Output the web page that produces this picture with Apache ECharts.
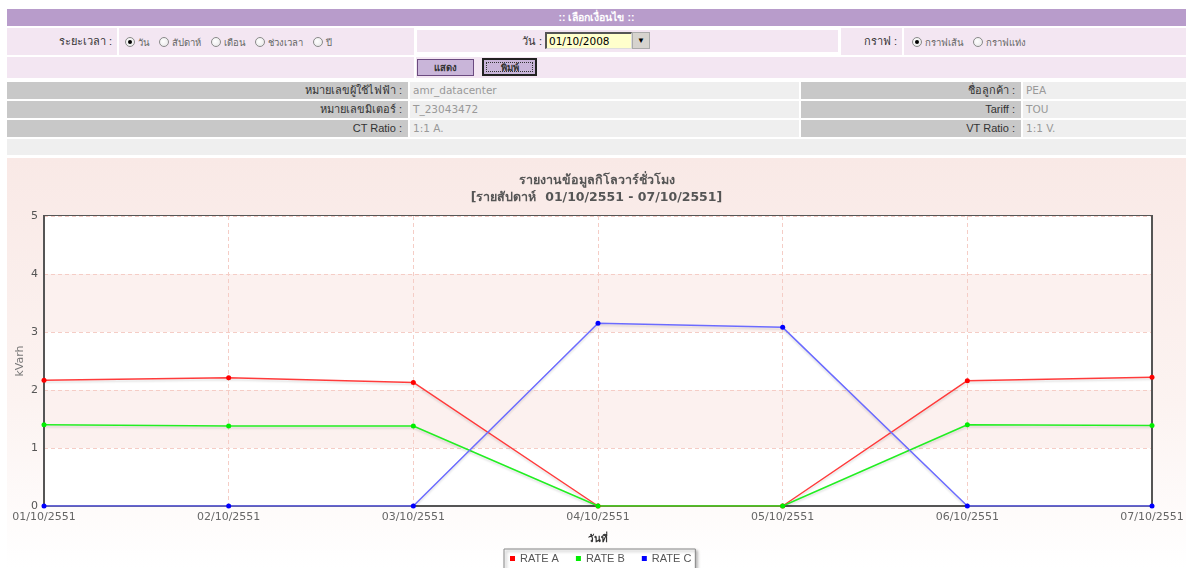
<!DOCTYPE html>
<html>
<head>
<meta charset="utf-8">
<script src="https://cdn.jsdelivr.net/npm/echarts@6/dist/echarts.min.js"></script>
<style>
  html, body { margin:0; padding:0; background:#fff; width:1186px; height:568px; overflow:hidden; }
  body { font-family: "Liberation Sans", "DejaVu Sans", sans-serif; font-size:11px; color:#333; position:relative; }
  .abs { position:absolute; box-sizing:border-box; }
  .hdr { background:#b89ccb; color:#fff; font-weight:bold; text-align:center; line-height:17px; font-size:10.5px; }
  .pink { background:#f3e6f2; }
  .gray { background:#c8c8c8; text-align:right; padding-right:6px; line-height:17px; color:#333; font-weight:normal; }
  .val { background:#efefef; padding-left:3px; line-height:17px; color:#999; font-family:"DejaVu Sans", sans-serif; font-size:10.5px; }
  .lbl { text-align:right; padding-right:5px; line-height:27px; color:#333; }
  .radio { display:inline-block; width:10px; height:10px; border-radius:50%; box-sizing:border-box;
           border:1px solid #8a8a8a; background:radial-gradient(circle at 40% 40%, #fff 0%, #e4e4e4 100%);
           vertical-align:middle; position:relative; margin-right:3px; }
  .radio.on::after { content:""; position:absolute; left:2px; top:2px; width:4px; height:4px; border-radius:50%; background:#000; }
  .rtxt { color:#666; font-size:9.5px; vertical-align:middle; margin-right:7px; }
  .btn { background:#c9b5d9; text-align:center; font-size:9.5px; font-weight:bold; color:#333; }
  #chart { position:absolute; left:7px; top:158px; width:1179px; height:410px; }
</style>
</head>
<body>
<div class="abs hdr" style="left:7px;top:9px;width:1179px;height:17px;">:: เลือกเงื่อนไข ::</div>

<div class="abs pink lbl" style="left:7px;top:28px;width:110px;height:27px;">ระยะเวลา :</div>
<div class="abs pink" style="left:119px;top:28px;width:295px;height:27px;line-height:27px;padding-left:6px;">
  <span class="radio on"></span><span class="rtxt">วัน</span>
  <span class="radio"></span><span class="rtxt">สัปดาห์</span>
  <span class="radio"></span><span class="rtxt">เดือน</span>
  <span class="radio"></span><span class="rtxt">ช่วงเวลา</span>
  <span class="radio"></span><span class="rtxt">ปี</span>
</div>
<div class="abs pink" style="left:417px;top:30px;width:421px;height:22px;"></div>
<div class="abs" style="left:417px;top:30px;width:125px;height:22px;line-height:22px;text-align:right;color:#333;">วัน :</div>
<div class="abs" style="left:545px;top:32px;width:87px;height:17px;background:#ffffcc;border-top:2px solid #555;border-left:2px solid #555;border-right:1px solid #ddd;border-bottom:1px solid #ddd;font-family:'DejaVu Sans',sans-serif;font-size:10.5px;line-height:14px;padding-left:2px;color:#000;">01/10/2008</div>
<div class="abs" style="left:632px;top:32px;width:18px;height:17px;background:#d6d3ce;border:1px solid #aaa;text-align:center;font-size:8px;line-height:15px;color:#000;">&#9660;</div>

<div class="abs pink" style="left:841px;top:28px;width:61px;height:27px;"></div>
<div class="abs lbl" style="left:841px;top:28px;width:61px;height:27px;">กราฟ :</div>
<div class="abs pink" style="left:904px;top:28px;width:282px;height:27px;line-height:27px;padding-left:8px;">
  <span class="radio on"></span><span class="rtxt">กราฟเส้น</span>
  <span class="radio"></span><span class="rtxt">กราฟแท่ง</span>
</div>

<div class="abs pink" style="left:7px;top:57px;width:407px;height:21px;"></div>
<div class="abs pink" style="left:416px;top:57px;width:770px;height:21px;"></div>
<div class="abs btn" style="left:417px;top:59px;width:57px;height:17px;border:1px solid #6b4a80;line-height:15px;">แสดง</div>
<div class="abs btn" style="left:482px;top:58px;width:55px;height:18px;border:2px solid #222;line-height:15px;">
  <div style="position:absolute;left:2px;top:2px;right:2px;bottom:2px;border:1px dotted #333;"></div>พิมพ์</div>

<div class="abs gray" style="left:7px;top:82px;width:401px;height:17px;">หมายเลขผู้ใช้ไฟฟ้า :</div>
<div class="abs val" style="left:410px;top:82px;width:389px;height:17px;">amr_datacenter</div>
<div class="abs gray" style="left:801px;top:82px;width:220px;height:17px;">ชื่อลูกค้า :</div>
<div class="abs val" style="left:1023px;top:82px;width:163px;height:17px;">PEA</div>

<div class="abs gray" style="left:7px;top:101px;width:401px;height:17px;">หมายเลขมิเตอร์ :</div>
<div class="abs val" style="left:410px;top:101px;width:389px;height:17px;">T_23043472</div>
<div class="abs gray" style="left:801px;top:101px;width:220px;height:17px;">Tariff :</div>
<div class="abs val" style="left:1023px;top:101px;width:163px;height:17px;">TOU</div>

<div class="abs gray" style="left:7px;top:120px;width:401px;height:17px;">CT Ratio :</div>
<div class="abs val" style="left:410px;top:120px;width:389px;height:17px;">1:1 A.</div>
<div class="abs gray" style="left:801px;top:120px;width:220px;height:17px;">VT Ratio :</div>
<div class="abs val" style="left:1023px;top:120px;width:163px;height:17px;">1:1 V.</div>

<div class="abs" style="left:7px;top:139px;width:1179px;height:16px;background:#efefef;"></div>

<div id="chart"></div>

<script>
// ---- data ----
const categories = ['01/10/2551','02/10/2551','03/10/2551','04/10/2551','05/10/2551','06/10/2551','07/10/2551'];
const seriesNames = ['RATE A','RATE B','RATE C'];
const rateA = [2.17, 2.21, 2.13, 0, 0, 2.16, 2.22];
const rateB = [1.40, 1.38, 1.38, 0, 0, 1.40, 1.39];
const rateC = [0, 0, 0, 3.15, 3.08, 0, 0];
const yMin = 0, yMax = 5, yStep = 1;
const titleLine1 = 'รายงานข้อมูลกิโลวาร์ชั่วโมง';
const titleLine2 = '[รายสัปดาห์  01/10/2551 - 07/10/2551]';
const xName = 'วันที่';
const yName = 'kVarh';

const chart = echarts.init(document.getElementById('chart'), null, {renderer:'canvas'});

function lineSeries(name, data, lineColor, dotColor) {
  return {
    name: name, type: 'line', data: data,
    symbol: 'circle', symbolSize: 5, showSymbol: true,
    itemStyle: { color: dotColor },
    lineStyle: { color: lineColor, width: 1.5, shadowColor: 'rgba(0,0,0,0.12)', shadowBlur: 2, shadowOffsetY: 2 },
    emphasis: { disabled: true },
    animation: false
  };
}

const frameLine = { show: true, lineStyle: { color: '#555', width: 2 } };

chart.setOption({
  animation: false,
  backgroundColor: {
    type: 'linear', x: 0, y: 0, x2: 0, y2: 1,
    colorStops: [{offset: 0, color: '#f9e9e6'}, {offset: 0.6, color: '#fcf3f1'}, {offset: 1, color: '#ffffff'}]
  },
  title: {
    text: titleLine1 + '\n' + titleLine2,
    left: 'center', top: 14, padding: 0,
    textStyle: { color: '#555', fontSize: 12.5, fontWeight: 'bold', lineHeight: 17, fontFamily: 'DejaVu Sans, sans-serif' }
  },
  legend: {
    data: seriesNames,
    left: 497, top: 391,
    icon: 'rect', itemWidth: 5, itemHeight: 5, itemGap: 17,
    backgroundColor: '#fff', borderColor: '#888', borderWidth: 1,
    padding: [4, 4, 8, 6],
    shadowColor: 'rgba(0,0,0,0.35)', shadowBlur: 3, shadowOffsetX: 2, shadowOffsetY: 2,
    textStyle: { color: '#555', fontSize: 11, fontFamily: 'Liberation Sans, Arial, sans-serif' },
    selectedMode: false
  },
  grid: {
    left: 37, right: 34, top: 58, bottom: 62,
    outerBoundsMode: 'none', containLabel: false,
    show: true, backgroundColor: '#fff', borderColor: '#555', borderWidth: 2
  },
  xAxis: [{
    type: 'category', data: categories, boundaryGap: false,
    axisLine: frameLine,
    axisTick: { show: false },
    axisLabel: { color: '#666', fontSize: 11, fontFamily: 'DejaVu Sans, sans-serif', margin: 6, interval: 0 },
    splitLine: { show: true, lineStyle: { type: [4, 3], color: '#f5cdc6', width: 1 } },
    name: xName, nameLocation: 'middle', nameGap: 28, nameMoveOverlap: false,
    nameTextStyle: { color: '#333', fontSize: 10, fontWeight: 'bold' }
  }, {
    type: 'category', data: categories, boundaryGap: false, position: 'top',
    axisLine: frameLine, axisTick: { show: false }, axisLabel: { show: false }, splitLine: { show: false }
  }],
  yAxis: [{
    type: 'value', min: yMin, max: yMax, interval: yStep,
    axisLine: frameLine,
    axisTick: { show: false },
    axisLabel: { color: '#555', fontSize: 11, fontFamily: 'DejaVu Sans, sans-serif', margin: 6 },
    splitLine: { show: true, lineStyle: { type: [4, 3], color: '#f5cdc6', width: 1 } },
    splitArea: { show: true, areaStyle: { color: ['#ffffff', '#fcf1ef'] } },
    name: yName, nameLocation: 'middle', nameGap: 18, nameMoveOverlap: false,
    nameTextStyle: { color: '#777', fontSize: 11, fontFamily: 'DejaVu Sans, sans-serif' }
  }, {
    type: 'value', min: yMin, max: yMax, interval: yStep, position: 'right',
    axisLine: frameLine, axisTick: { show: false }, axisLabel: { show: false },
    splitLine: { show: false }, splitArea: { show: false }
  }],
  series: [
    lineSeries(seriesNames[0], rateA, '#ff3b3b', '#ff0000'),
    lineSeries(seriesNames[1], rateB, '#22ee22', '#00ee00'),
    lineSeries(seriesNames[2], rateC, '#6b6bff', '#0000ff')
  ]
});
</script>
</body>
</html>
